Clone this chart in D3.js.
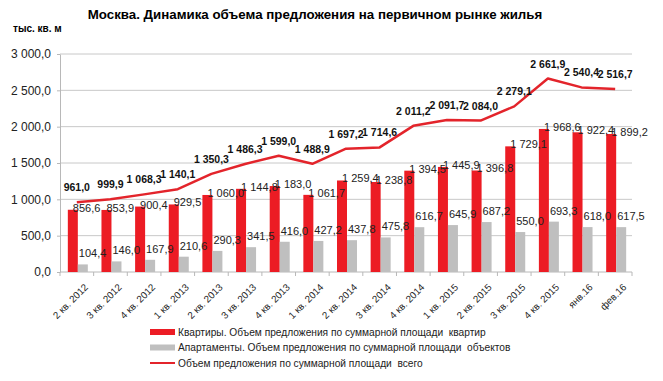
<!DOCTYPE html>
<html lang="ru">
<head>
<meta charset="UTF-8">
<title>Москва. Динамика объема предложения</title>
<script src="https://cdn.jsdelivr.net/npm/d3@7"></script>
<style>
    body { margin: 0; background: #fff; }
    svg { display: block; font-family: "Liberation Sans", Arial, sans-serif; }
    .grid line { stroke: #c8c8c8; stroke-width: 1; }
    .axis path, .axis line { stroke: #b8b8b8; }
    .axis text { fill: #222; }
</style>
</head>
<body>
<script>
    /******* DATA *******/
    const categories = ["2 кв. 2012", "3 кв. 2012", "4 кв. 2012", "1 кв. 2013", "2 кв. 2013", "3 кв. 2013",
        "4 кв. 2013", "1 кв. 2014", "2 кв. 2014", "3 кв. 2014", "4 кв. 2014", "1 кв. 2015", "2 кв. 2015",
        "3 кв. 2015", "4 кв. 2015", "янв.16", "фев.16"];
    const flats = [856.6, 853.9, 900.4, 929.5, 1060.0, 1144.8, 1183.0, 1061.7, 1259.4, 1238.8,
        1394.5, 1445.9, 1396.8, 1729.1, 1968.6, 1922.4, 1899.2];
    const apartments = [104.4, 146.0, 167.9, 210.6, 290.3, 341.5, 416.0, 427.2, 437.8, 475.8,
        616.7, 645.9, 687.2, 550.0, 693.3, 618.0, 617.5];
    const total = [961.0, 999.9, 1068.3, 1140.1, 1350.3, 1486.3, 1599.0, 1488.9, 1697.2, 1714.6,
        2011.2, 2091.7, 2084.0, 2279.1, 2661.9, 2540.4, 2516.7];
    const yTicks = [0, 500, 1000, 1500, 2000, 2500, 3000];
    const legendLabels = [
        "Квартиры. Объем предложения по суммарной площади  квартир",
        "Апартаменты. Объем предложения по суммарной площади  объектов",
        "Объем предложения по суммарной площади  всего"
    ];

    /******* SETUP *******/
    const width = 663, height = 381;
    const margins = { top: 54, bottom: 109, left: 60, right: 31 };
    const red = "#ec1c24", gray = "#bfbfbf", lineRed = "#e3242b";

    const svg = d3.select("body").append("svg")
        .attr("width", width)
        .attr("height", height);

    // number format like "1 068,3"
    const fmt = v => d3.format(",.1f")(v).replace(/,/g, " ").replace(".", ",");

    const xScale = d3.scaleBand()
        .domain(categories)
        .range([margins.left, width - margins.right]);
    const yScale = d3.scaleLinear()
        .domain([0, 3000])
        .range([height - margins.bottom, margins.top]);
    const bw = 10;
    const cx = c => xScale(c) + xScale.bandwidth() / 2 + 1;

    /******* GRID & AXES *******/
    svg.append("g").attr("class", "grid")
        .selectAll("line")
        .data(yTicks.filter(d => d > 0))
        .enter().append("line")
        .attr("x1", margins.left).attr("x2", width - margins.right)
        .attr("y1", d => yScale(d)).attr("y2", d => yScale(d));

    svg.append("g")
        .attr("class", "axis")
        .attr("transform", `translate(${margins.left},0)`)
        .call(d3.axisLeft(yScale).tickValues(yTicks).tickFormat(fmt).tickSize(3).tickSizeOuter(0))
        .call(g => g.selectAll("text").style("font-size", "12px").attr("dx", "-3px"));

    // x axis: ticks at category boundaries
    const xg = svg.append("g")
        .attr("class", "axis")
        .attr("transform", `translate(0,${yScale(0)})`);
    xg.append("line")
        .attr("x1", margins.left).attr("x2", width - margins.right);
    xg.selectAll(".tk")
        .data(categories.concat([null]))
        .enter().append("line")
        .attr("class", "tk")
        .attr("x1", (d, i) => margins.left + i * xScale.step())
        .attr("x2", (d, i) => margins.left + i * xScale.step())
        .attr("y1", 0).attr("y2", 4);
    xg.selectAll("text")
        .data(categories)
        .enter().append("text")
        .attr("transform", d => `translate(${cx(d) + 6},${11}) rotate(-45)`)
        .attr("text-anchor", "end")
        .attr("dy", "0.7em")
        .style("font-size", "9.8px")
        .text(d => d);

    /******* BARS *******/
    svg.append("g").selectAll("rect")
        .data(flats)
        .enter().append("rect")
        .attr("x", (d, i) => cx(categories[i]) - bw)
        .attr("y", d => yScale(d))
        .attr("width", bw)
        .attr("height", d => yScale(0) - yScale(d))
        .attr("fill", red);

    svg.append("g").selectAll("rect")
        .data(apartments)
        .enter().append("rect")
        .attr("x", (d, i) => cx(categories[i]))
        .attr("y", d => yScale(d))
        .attr("width", bw)
        .attr("height", d => yScale(0) - yScale(d))
        .attr("fill", gray);

    /******* LINE *******/
    const lineGen = d3.line()
        .x((d, i) => cx(categories[i]) - 1)
        .y(d => yScale(d));
    svg.append("path")
        .datum(total)
        .attr("d", lineGen)
        .attr("fill", "none")
        .attr("stroke", lineRed)
        .attr("stroke-width", 2.5)
        .attr("stroke-linejoin", "round");

    /******* LABELS *******/
    svg.append("g").selectAll("text")
        .data(flats)
        .enter().append("text")
        .attr("x", (d, i) => cx(categories[i]) - bw + 5)
        .attr("y", d => yScale(d) + 2)
        .style("font-size", "11px")
        .style("fill", "#222")
        .text(fmt);

    svg.append("g").selectAll("text")
        .data(apartments)
        .enter().append("text")
        .attr("x", (d, i) => cx(categories[i]) + 1)
        .attr("y", d => yScale(d) - 7)
        .style("font-size", "11px")
        .style("fill", "#222")
        .text(fmt);

    svg.append("g").selectAll("text")
        .data(total)
        .enter().append("text")
        .attr("x", (d, i) => cx(categories[i]) - 1)
        .attr("y", d => yScale(d) - 11)
        .attr("text-anchor", "middle")
        .style("font-size", "10.5px")
        .style("font-weight", "bold")
        .style("fill", "#111")
        .text(fmt);

    /******* TITLES *******/
    svg.append("text")
        .attr("x", 315).attr("y", 19)
        .attr("text-anchor", "middle")
        .style("font-size", "13.3px")
        .style("font-weight", "bold")
        .text("Москва. Динамика объема предложения на первичном рынке жилья");

    svg.append("text")
        .attr("x", 13).attr("y", 32)
        .style("font-size", "10px")
        .style("font-weight", "bold")
        .text("тыс. кв. м");

    /******* LEGEND *******/
    const legend = svg.append("g").attr("transform", "translate(150,332)");
    const items = legend.selectAll("g")
        .data(legendLabels)
        .enter().append("g")
        .attr("transform", (d, i) => `translate(0,${i * 15.5})`);
    items.append("rect")
        .attr("x", 0).attr("width", 25)
        .attr("y", (d, i) => i === 2 ? -1 : -3)
        .attr("height", (d, i) => i === 2 ? 2 : 6)
        .attr("fill", (d, i) => [red, gray, lineRed][i]);
    items.append("text")
        .attr("x", 28).attr("dy", "0.35em")
        .attr("xml:space", "preserve")
        .style("white-space", "pre")
        .style("font-size", "10.2px")
        .style("fill", "#222")
        .text(d => d);
</script>
</body>
</html>
